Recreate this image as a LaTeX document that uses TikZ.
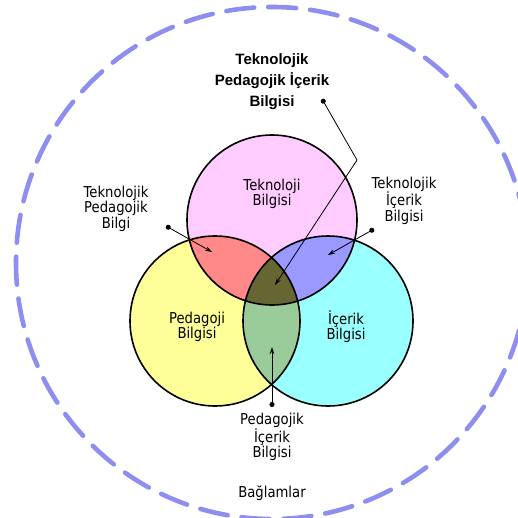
\documentclass[tikz,border=0pt]{standalone}
\usepackage{fontspec}
\setmainfont{DejaVu Sans}[FakeStretch=0.88]
\newfontfamily\titlefont{Liberation Sans}
\usetikzlibrary{arrows.meta}
\definecolor{tkcol}{HTML}{FFCCFF}
\definecolor{pkcol}{HTML}{FFFF99}
\definecolor{ckcol}{HTML}{99FFFF}
\definecolor{tpkcol}{HTML}{FF8888}
\definecolor{tckcol}{HTML}{9999FF}
\definecolor{pckcol}{HTML}{99CC99}
\definecolor{tpckcol}{HTML}{666633}
\definecolor{ctxcol}{HTML}{8E8EF0}
\tikzset{
  lbl/.style={inner sep=0pt, align=center, font=\fontsize{15}{15.5}\selectfont},
  ttl/.style={inner sep=0pt, align=center, font=\titlefont\bfseries\fontsize{15}{21}\selectfont},
  conn/.style={line width=0.8pt, {Circle[length=5pt]}-{Stealth[length=7pt,width=4.5pt]}},
  ring/.style={line width=1.6pt, draw=black},
  ctx/.style={draw=ctxcol, line width=4.6pt, line cap=round, dash pattern=on 28pt off 14pt}
}
\begin{document}
\begin{tikzpicture}[x=1pt,y=-1pt]
\useasboundingbox (0,0) rectangle (517,518);
% context ring
\draw[ctx] (272,263) circle[radius=256pt];
% centres
\coordinate (T) at (272,220);
\coordinate (P) at (215,321);
\coordinate (C) at (328,321);
\def\R{85pt}
% base fills
\fill[tkcol] (T) circle[radius=\R];
\fill[pkcol] (P) circle[radius=\R];
\fill[ckcol] (C) circle[radius=\R];
% overlaps
\begin{scope}
  \clip (T) circle[radius=\R];
  \fill[tpkcol] (P) circle[radius=\R];
  \fill[tckcol] (C) circle[radius=\R];
\end{scope}
\begin{scope}
  \clip (P) circle[radius=\R];
  \fill[pckcol] (C) circle[radius=\R];
\end{scope}
\begin{scope}
  \clip (T) circle[radius=\R];
  \clip (P) circle[radius=\R];
  \fill[tpckcol] (C) circle[radius=\R];
\end{scope}
% outlines
\draw[ring] (T) circle[radius=\R];
\draw[ring] (P) circle[radius=\R];
\draw[ring] (C) circle[radius=\R];
% labels
\node[ttl] (tpck) at (272,82) {Teknolojik\\Pedagojik İçerik\\Bilgisi};
\node[lbl] (tpk) at (116,208.6) {Teknolojik\\Pedagojik\\Bilgi};
\node[lbl] (tck) at (404,200.6) {Teknolojik\\İçerik\\Bilgisi};
\node[lbl] (tk) at (272,194) {Teknoloji\\Bilgisi};
\node[lbl] (pk) at (197,327) {Pedagoji\\Bilgisi};
\node[lbl] (ck) at (346,326.8) {İçerik\\Bilgisi};
\node[lbl] (pck) at (272,437) {Pedagojik\\İçerik\\Bilgisi};
\node[lbl] (ctxl) at (272,493) {Bağlamlar};
% connector ends
\coordinate (tpckdot) at (322,99);
\coordinate (tpckbend) at (357,160);
\coordinate (tpcktip) at (275,285);
\coordinate (tpkdot) at (166,226);
\coordinate (tpktip) at (212,252);
\coordinate (tckdot) at (374,229);
\coordinate (tcktip) at (328,255);
\coordinate (pckdot) at (272,407);
\coordinate (pcktip) at (272,347);
\draw[conn] (tpckdot) -- (tpckbend) -- (tpcktip);
\draw[conn] (tpkdot) -- (tpktip);
\draw[conn] (tckdot) -- (tcktip);
\draw[conn] (pckdot) -- (pcktip);
\end{tikzpicture}
\end{document}
